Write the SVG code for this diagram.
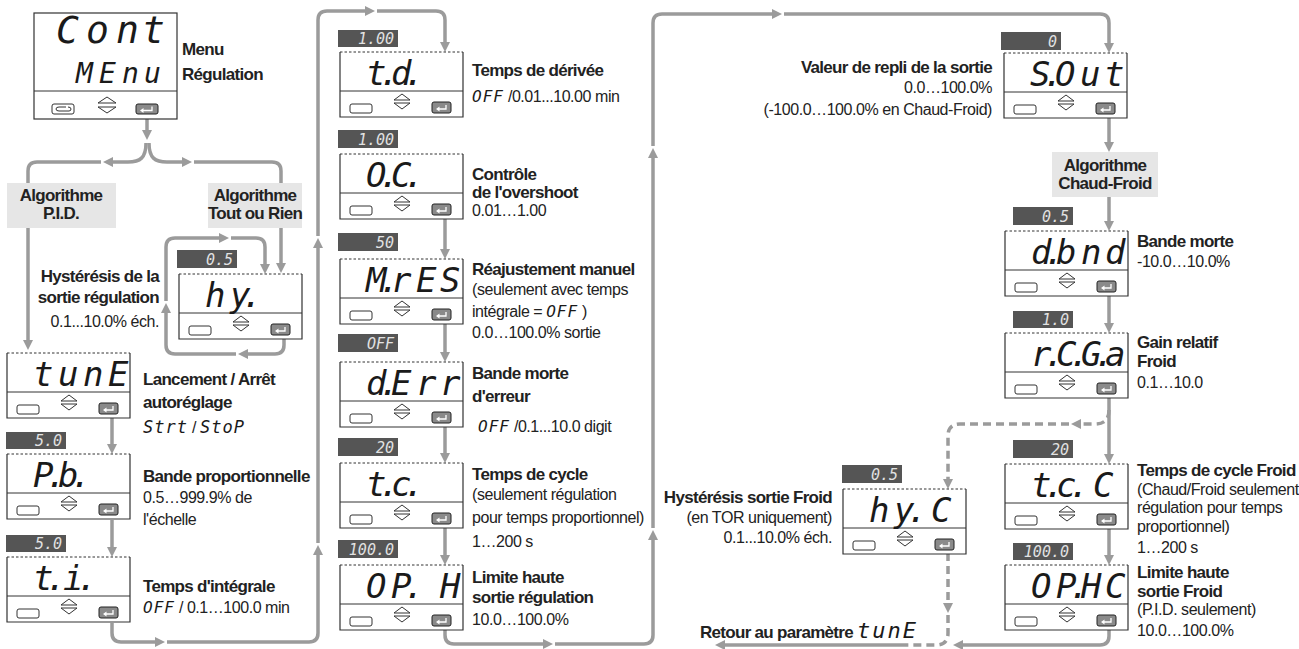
<svg xmlns="http://www.w3.org/2000/svg" xmlns:xlink="http://www.w3.org/1999/xlink" width="1299" height="649" viewBox="0 0 1299 649">
<style>
.ln{fill:none;stroke:#9b9b9b;stroke-width:3.5}
.dash{stroke-dasharray:8 5}
.t{font-family:"Liberation Sans",sans-serif;fill:#222}
.b{font-weight:bold;font-size:17px;letter-spacing:-0.7px}
.r{font-size:16px;letter-spacing:-0.45px}
.seg{font-family:"DejaVu Sans Mono",monospace;font-style:italic;font-weight:normal;fill:#1a1a1a}
.d{font-size:34px;letter-spacing:0}
.vr{fill:#555}
.vt{font-family:"DejaVu Sans Mono",monospace;font-style:italic;font-size:15px;fill:#e2e2e2;text-anchor:end}
.alg{fill:#e6e6e6}
.ac{text-anchor:middle}
.ae{text-anchor:end}
</style>
<defs>
<marker id="ah" markerUnits="userSpaceOnUse" markerWidth="12" markerHeight="10" refX="2" refY="5" orient="auto"><path d="M0,0 L10,5 L0,10 Z" fill="#9b9b9b"/></marker>
<g id="sb">
<rect width="123" height="65" fill="#fff"/>
<path d="M0,0 V65 H123 V0" fill="none" stroke="#333" stroke-width="1.2"/>
<path d="M0,0 H123" fill="none" stroke="#333" stroke-width="1" stroke-dasharray="2.5 2"/>
<path d="M0,39 H123" stroke="#333" stroke-width="1"/>
<rect x="10" y="52" width="22" height="9" rx="2" fill="#fff" stroke="#333" stroke-width="1"/>
<path d="M54,48 L62,42 L70,48 Z M54,51 L62,57 L70,51 Z" fill="#fff" stroke="#333" stroke-width="1"/>
<rect x="92" y="50" width="19" height="11" rx="2" fill="#8a8a8a" stroke="#222" stroke-width="1"/>
<path d="M106,53 V57 H98" fill="none" stroke="#fff" stroke-width="1.3"/>
<path d="M96,57 L99.5,54.5 V59.5 Z" fill="#fff"/>
</g>
</defs>

<g id="connectors">
<path class="ln" marker-end="url(#ah)" d="M147,119 V132"/>
<path class="ln" marker-end="url(#ah)" d="M146,143 C146,158 140,162 128,162 H111"/>
<path class="ln" d="M101,162 H37 Q28,162 28,171 V183"/>
<path class="ln" marker-end="url(#ah)" d="M149,143 C149,158 155,162 167,162 H184"/>
<path class="ln" d="M194,162 H272 Q281,162 281,171 V183"/>
<path class="ln" marker-end="url(#ah)" d="M28,228 V342"/>
<path class="ln" marker-end="url(#ah)" d="M281,228 V265"/>
<path class="ln" marker-end="url(#ah)" d="M284,339 V345 Q284,354 275,354 H246"/>
<path class="ln" marker-end="url(#ah)" d="M236,354 H175 Q166,354 166,345 V311"/>
<path class="ln" marker-end="url(#ah)" d="M166,301 V247 Q166,238 175,238 H221"/>
<path class="ln" marker-end="url(#ah)" d="M231,238 H256 Q265,238 265,247 V266"/>
<path class="ln" marker-end="url(#ah)" d="M112,418 V446"/>
<path class="ln" marker-end="url(#ah)" d="M112,520 V549"/>
<path class="ln" marker-end="url(#ah)" d="M112,623 V633 Q112,642 121,642 H157"/>
<path class="ln" marker-end="url(#ah)" d="M167,642 H309 Q318,642 318,633 V553"/>
<path class="ln" marker-end="url(#ah)" d="M318,543 V246"/>
<path class="ln" marker-end="url(#ah)" d="M318,236 V20 Q318,11 327,11 H367"/>
<path class="ln" marker-end="url(#ah)" d="M377,11 H436 Q445,11 445,20 V44"/>
<path class="ln" marker-end="url(#ah)" d="M445,218 V251"/>
<path class="ln" marker-end="url(#ah)" d="M445,324 V354"/>
<path class="ln" marker-end="url(#ah)" d="M445,427 V455"/>
<path class="ln" marker-end="url(#ah)" d="M445,528 V557"/>
<path class="ln" marker-end="url(#ah)" d="M445,630 V635 Q445,644 454,644 H545"/>
<path class="ln" marker-end="url(#ah)" d="M555,644 H644 Q653,644 653,635 V538"/>
<path class="ln" marker-end="url(#ah)" d="M653,528 V156"/>
<path class="ln" marker-end="url(#ah)" d="M653,146 V23 Q653,14 662,14 H774"/>
<path class="ln" marker-end="url(#ah)" d="M784,14 H1100 Q1109,14 1109,23 V45"/>
<path class="ln" marker-end="url(#ah)" d="M1109,118 V144"/>
<path class="ln" marker-end="url(#ah)" d="M1109,197 V223"/>
<path class="ln" marker-end="url(#ah)" d="M1109,296 V325"/>
<path class="ln" marker-end="url(#ah)" d="M1109,398 V456"/>
<path class="ln" marker-end="url(#ah)" d="M1109,529 V557"/>
<path class="ln dash" marker-end="url(#ah)" d="M1109,410 Q1109,424 1095,424 H1079"/>
<path class="ln dash" marker-end="url(#ah)" d="M1069,424 H960 Q948,424 948,436 V481"/>
<path class="ln" marker-end="url(#ah)" d="M1109,630 V636 Q1109,645 1100,645 H961"/>
<path class="ln dash" marker-end="url(#ah)" d="M948,553 V605"/>
<path class="ln dash" d="M948,615 V633 Q948,645 936,645 H905"/>
<path class="ln" marker-end="url(#ah)" d="M905,645 H723"/>
</g>

<g id="menu">
<rect x="34" y="13" width="143" height="106" fill="#fff" stroke="#333" stroke-width="1.2"/>
<path d="M34,91 H177" stroke="#333" stroke-width="1"/>
<rect x="52" y="104" width="22" height="10" rx="2" fill="#fff" stroke="#333"/>
<path d="M66,107 H59 Q56,107 56,109 Q56,111 59,111 H69 Q71,111 71,109 Q71,107 68,107" fill="none" stroke="#333" stroke-width="1"/>
<path d="M98,103 L107,97 L116,103 Z M98,107 L107,113 L116,107 Z" fill="#fff" stroke="#333" stroke-width="1"/>
<rect x="136" y="104" width="22" height="10" rx="2" fill="#8a8a8a" stroke="#222"/>
<path d="M152,106.5 V110.5 H142" fill="none" stroke="#fff" stroke-width="1.3"/>
<path d="M140,110.5 L143.5,108 V113 Z" fill="#fff"/>
<text class="seg" font-size="38" y="43" x="56 86 116 142">Cont</text>
<text class="seg" font-size="28" y="83" x="76 99 122 144">MEnu</text>
<text class="t b" x="182" y="55">Menu</text>
<text class="t b" x="182" y="80">Régulation</text>
</g>

<g id="alg-pid">
<rect class="alg" x="7" y="183" width="109" height="45"/>
<text class="t b ac" x="61" y="201">Algorithme</text>
<text class="t b ac" x="61" y="219">P.I.D.</text>
</g>
<g id="alg-tor">
<rect class="alg" x="208" y="183" width="94" height="45"/>
<text class="t b ac" x="255" y="201">Algorithme</text>
<text class="t b ac" x="255" y="219">Tout ou Rien</text>
</g>

<g id="hy">
<rect class="vr" x="177" y="250" width="60" height="18"/>
<text class="vt" x="233" y="265">0.5</text>
<use xlink:href="#sb" x="179" y="274"/>
<text class="seg d" y="307" x="205 230 242">hy.</text>
<text class="t b ae" x="159" y="282">Hystérésis de la</text>
<text class="t b ae" x="159" y="303">sortie régulation</text>
<text class="t r ae" x="159" y="327">0.1...10.0% éch.</text>
</g>

<g id="tune">
<use xlink:href="#sb" x="7" y="353"/>
<text class="seg d" y="386" x="33 58 83 108">tunE</text>
<text class="t b" x="143" y="385">Lancement / Arrêt</text>
<text class="t b" x="143" y="408">autoréglage</text>
<text class="t r" x="143" y="433"><tspan class="seg" font-size="17" letter-spacing="1">Strt</tspan> / <tspan class="seg" font-size="17" letter-spacing="1">StoP</tspan></text>
</g>

<g id="pb">
<rect class="vr" x="6" y="432" width="60" height="17"/>
<text class="vt" x="62" y="446">5.0</text>
<use xlink:href="#sb" x="7" y="454"/>
<text class="seg d" y="487" x="33 46 58 71">P.b.</text>
<text class="t b" x="143" y="482">Bande proportionnelle</text>
<text class="t r" x="143" y="503">0.5…999.9% de</text>
<text class="t r" x="143" y="525">l'échelle</text>
</g>

<g id="ti">
<rect class="vr" x="6" y="535" width="60" height="17"/>
<text class="vt" x="62" y="549">5.0</text>
<use xlink:href="#sb" x="7" y="557"/>
<text class="seg d" y="590" x="33 46 54 63 77">t. i.</text>
<text class="t b" x="143" y="592">Temps d'intégrale</text>
<text class="t r" x="143" y="613"><tspan class="seg" font-size="16" letter-spacing="1">OFF</tspan> / 0.1…100.0 min</text>
</g>

<g id="td">
<rect class="vr" x="338" y="30" width="60" height="17"/>
<text class="vt" x="394" y="44">1.00</text>
<use xlink:href="#sb" x="340" y="52"/>
<text class="seg d" y="85" x="366 379 391 404">t.d.</text>
<text class="t b" x="472" y="76">Temps de dérivée</text>
<text class="t r" x="472" y="102"><tspan class="seg" font-size="16" letter-spacing="1">OFF</tspan> /0.01...10.00 min</text>
</g>

<g id="oc">
<rect class="vr" x="338" y="130" width="60" height="18"/>
<text class="vt" x="394" y="145">1.00</text>
<use xlink:href="#sb" x="340" y="154"/>
<text class="seg d" y="187" x="366 379 391 404">O.C.</text>
<text class="t b" x="472" y="180">Contrôle</text>
<text class="t b" x="472" y="198">de l'overshoot</text>
<text class="t r" x="472" y="216">0.01…1.00</text>
</g>

<g id="mres">
<rect class="vr" x="338" y="233" width="60" height="18"/>
<text class="vt" x="394" y="248">50</text>
<use xlink:href="#sb" x="340" y="259"/>
<text class="seg d" y="292" x="366 379 391 416 440">M.rES</text>
<text class="t b" x="472" y="275">Réajustement manuel</text>
<text class="t r" x="472" y="295">(seulement avec temps</text>
<text class="t r" x="472" y="317">intégrale = <tspan class="seg" font-size="16" letter-spacing="1">OFF</tspan> )</text>
<text class="t r" x="472" y="338">0.0…100.0% sortie</text>
</g>

<g id="derr">
<rect class="vr" x="338" y="334" width="60" height="18"/>
<text class="vt" x="394" y="349">OFF</text>
<use xlink:href="#sb" x="340" y="362"/>
<text class="seg d" y="395" x="366 379 391 416 440">d.Err</text>
<text class="t b" x="472" y="379">Bande morte</text>
<text class="t b" x="472" y="402">d'erreur</text>
<text class="t r" x="478" y="432"><tspan class="seg" font-size="16" letter-spacing="1">OFF</tspan> /0.1...10.0 digit</text>
</g>

<g id="tc">
<rect class="vr" x="338" y="438" width="60" height="18"/>
<text class="vt" x="394" y="453">20</text>
<use xlink:href="#sb" x="340" y="463"/>
<text class="seg d" y="496" x="366 379 391 404">t.c.</text>
<text class="t b" x="472" y="480">Temps de cycle</text>
<text class="t r" x="472" y="500">(seulement régulation</text>
<text class="t r" x="472" y="523">pour temps proportionnel)</text>
<text class="t r" x="472" y="547">1…200 s</text>
</g>

<g id="oph">
<rect class="vr" x="338" y="540" width="60" height="18"/>
<text class="vt" x="394" y="555">100.0</text>
<use xlink:href="#sb" x="340" y="565"/>
<text class="seg d" y="598" x="366 391 404 416 440">OP. H</text>
<text class="t b" x="472" y="583">Limite haute</text>
<text class="t b" x="472" y="603">sortie régulation</text>
<text class="t r" x="472" y="625">10.0…100.0%</text>
</g>

<g id="sout">
<rect class="vr" x="1001" y="32" width="60" height="18"/>
<text class="vt" x="1057" y="47">0</text>
<use xlink:href="#sb" x="1004" y="53"/>
<text class="seg d" y="86" x="1030 1043 1055 1080 1104">S.Out</text>
<text class="t b ae" x="992" y="73">Valeur de repli de la sortie</text>
<text class="t r ae" x="992" y="93">0.0…100.0%</text>
<text class="t r ae" x="992" y="115">(-100.0…100.0%  en Chaud-Froid)</text>
</g>

<g id="alg-cf">
<rect class="alg" x="1052" y="152" width="106" height="45"/>
<text class="t b ac" x="1105" y="171">Algorithme</text>
<text class="t b ac" x="1105" y="189">Chaud-Froid</text>
</g>

<g id="dbnd">
<rect class="vr" x="1013" y="207" width="60" height="18"/>
<text class="vt" x="1069" y="222">0.5</text>
<use xlink:href="#sb" x="1005" y="231"/>
<text class="seg d" y="264" x="1031 1044 1056 1081 1105">d.bnd</text>
<text class="t b" x="1137" y="247">Bande morte</text>
<text class="t r" x="1137" y="267">-10.0…10.0%</text>
</g>

<g id="rcga">
<rect class="vr" x="1013" y="311" width="60" height="17"/>
<text class="vt" x="1069" y="325">1.0</text>
<use xlink:href="#sb" x="1005" y="333"/>
<text class="seg d" y="366" x="1031 1044 1056 1069 1081 1094 1105">r.C.G.a</text>
<text class="t b" x="1137" y="348">Gain relatif</text>
<text class="t b" x="1137" y="367">Froid</text>
<text class="t r" x="1137" y="388">0.1…10.0</text>
</g>

<g id="tcc">
<rect class="vr" x="1013" y="440" width="60" height="18"/>
<text class="vt" x="1069" y="455">20</text>
<use xlink:href="#sb" x="1005" y="464"/>
<text class="seg d" y="497" x="1031 1044 1056 1069 1081 1093 1105">t.c.  C</text>
<text class="t b" x="1137" y="476">Temps de cycle Froid</text>
<text class="t r" x="1137" y="495" letter-spacing="-0.75">(Chaud/Froid seulement</text>
<text class="t r" x="1137" y="513">régulation pour temps</text>
<text class="t r" x="1137" y="532">proportionnel)</text>
<text class="t r" x="1137" y="553">1…200 s</text>
</g>

<g id="ophc">
<rect class="vr" x="1013" y="543" width="60" height="17"/>
<text class="vt" x="1069" y="557">100.0</text>
<use xlink:href="#sb" x="1005" y="565"/>
<text class="seg d" y="598" x="1031 1056 1069 1081 1105">OP.HC</text>
<text class="t b" x="1137" y="578">Limite haute</text>
<text class="t b" x="1137" y="597">sortie Froid</text>
<text class="t r" x="1137" y="615">(P.I.D. seulement)</text>
<text class="t r" x="1137" y="636">10.0…100.0%</text>
</g>

<g id="hyc">
<rect class="vr" x="842" y="465" width="60" height="18"/>
<text class="vt" x="898" y="480">0.5</text>
<use xlink:href="#sb" x="843" y="489"/>
<text class="seg d" y="522" x="869 894 907 919 931 943">hy.  C</text>
<text class="t b ae" x="832" y="503">Hystérésis sortie Froid</text>
<text class="t r ae" x="832" y="523">(en TOR uniquement)</text>
<text class="t r ae" x="832" y="543">0.1...10.0% éch.</text>
</g>

<g id="retour">
<text class="t b" x="700" y="638">Retour au paramètre <tspan class="seg" font-size="22" letter-spacing="2">tunE</tspan></text>
</g>
</svg>
